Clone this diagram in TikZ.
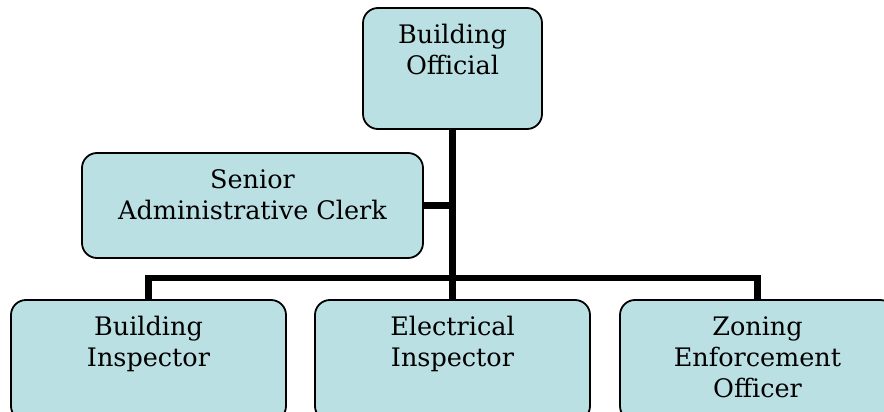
\documentclass[tikz,border=0pt]{standalone}
\usepackage{fontspec}
\setmainfont{DejaVu Serif}
\usetikzlibrary{calc, positioning}
\definecolor{boxFill}{RGB}{187,224,227}
\tikzset{
    orgBox/.style={rectangle, draw, line width=1.8pt, rounded corners=15pt, fill=boxFill, inner sep=0pt},
    orgText/.style={anchor=north, yshift=-17pt, inner sep=0pt, align=center, font=\fontsize{25.5}{31}\selectfont},
    orgLink/.style={line width=6.5pt, line join=miter},
}
\newcommand{\drawUnit}[6]{
    % box first, then its text hung from the top edge
    \node[orgBox, minimum width=#4, minimum height=#5] (#1) at (#2, #3) {};
    \node[orgText] (#1Txt) at (#1.north) {#6};
}

\begin{document}
\begin{tikzpicture}[x=1pt, y=1pt]
        \useasboundingbox (0, 0) rectangle (884, -412);

        \drawUnit{official}{452.5}{-68.5}{179}{121}{Building\\Official}
        \drawUnit{clerk}{252.5}{-205.5}{341}{105}{Senior\\Administrative Clerk}
        \drawUnit{bldInsp}{148.5}{-360.5}{275}{121}{Building\\Inspector}
        \drawUnit{elecInsp}{452.5}{-360.5}{275}{121}{Electrical\\Inspector}
        \drawUnit{zoning}{757.5}{-360.5}{275}{121}{Zoning\\Enforcement\\Officer}

        \coordinate (hub) at ($(official.south)+(0, -148)$);

        \draw[orgLink] (official.south) -- (hub);
        \draw[orgLink] (clerk.east) -- (clerk.east -| hub);
        \draw[orgLink] (bldInsp.north) |- (hub) -| (zoning.north);
        \draw[orgLink] (hub) -- (elecInsp.north);

    \end{tikzpicture}
\end{document}
